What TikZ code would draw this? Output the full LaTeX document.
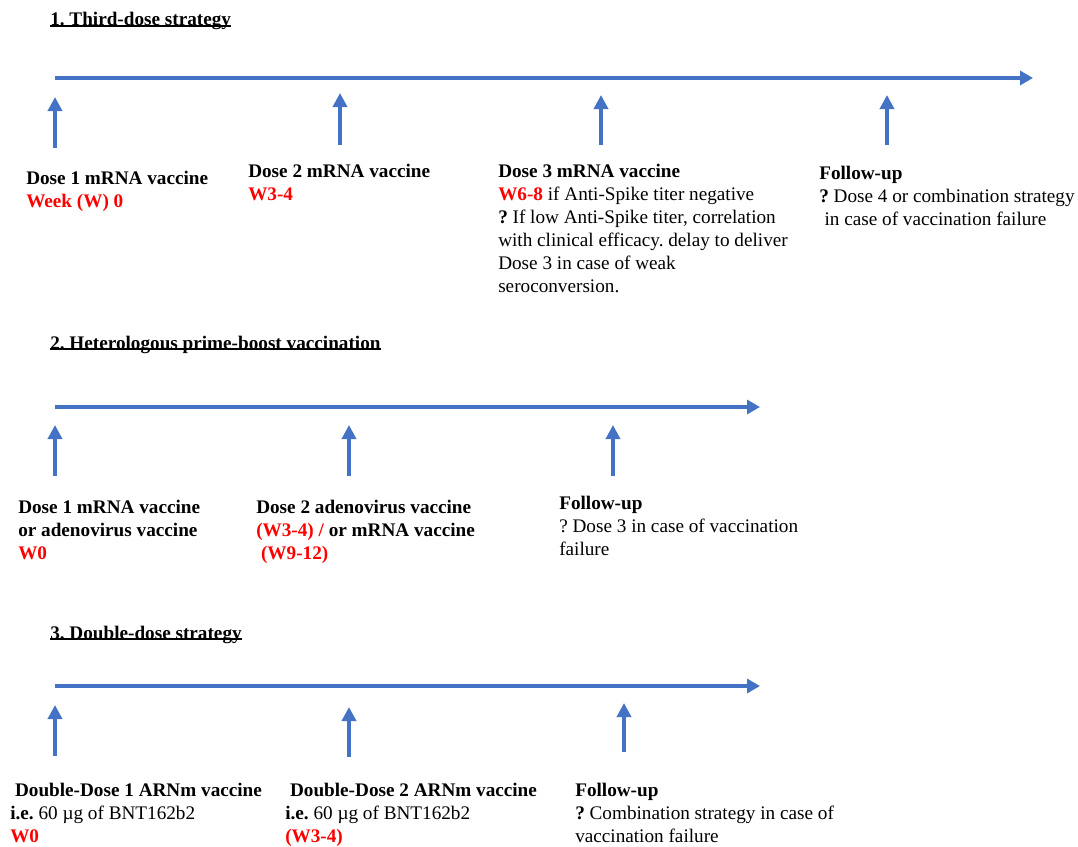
\documentclass[tikz,border=0pt]{standalone}
\usepackage{fontspec}
\setmainfont{Liberation Serif}
\usetikzlibrary{arrows.meta}
\definecolor{tlblue}{HTML}{4472C4}
\definecolor{wred}{HTML}{FF0000}
\frenchspacing
\begin{document}
\begin{tikzpicture}[x=0.75pt, y=-0.75pt,
  every node/.style={font=\fontsize{14.4}{17.25}\selectfont},
  timeline/.style={draw=tlblue, line width=3pt, -{Triangle[length=9.75pt, width=10.5pt]}},
  upmark/.style={draw=tlblue, line width=3pt, -{Triangle[length=10.5pt, width=10.5pt]}},
  headtext/.style={anchor=base west, inner sep=0pt, font=\fontsize{14.4}{17.25}\selectfont\bfseries},
  headline/.style={line width=1.2pt, yshift=-2.4pt},
  info/.style={anchor=base west, inner sep=0pt, align=left}]
  \useasboundingbox (0,0) rectangle (1078,846);

  % 1. third dose (info nodes sit on the baseline of their last line)
  \node[headtext] (h1) at (50,26) {1. Third-dose strategy};
  \draw[headline] (h1.base west) -- (h1.base east);
  \coordinate (s1l) at (55,78);
  \coordinate (s1r) at (1033,78);
  \draw[timeline] (s1l) -- (s1r);
  \foreach \x/\yb/\yt [count=\i] in {55/148/97, 340/145/93, 601/145/95, 887/145/95} {
    \coordinate (s1b\i) at (\x,\yb);
    \coordinate (s1t\i) at (\x,\yt);
    \draw[upmark] (s1b\i) -- (s1t\i);
  }
  \node[info] (d1) at (26,207) {\textbf{Dose 1 mRNA vaccine}\\\textcolor{wred}{\textbf{Week (W) 0}}};
  \node[info] (d2) at (248,200) {\textbf{Dose 2 mRNA vaccine}\\\textcolor{wred}{\textbf{W3-4}}};
  \node[info] (d3) at (498,292) {\textbf{Dose 3 mRNA vaccine}\\
    \textcolor{wred}{\textbf{W6-8}} if Anti-Spike titer negative\\
    \textbf{?} If low Anti-Spike titer, correlation\\
    with clinical efficacy. delay to deliver\\
    Dose 3 in case of weak\\
    seroconversion.};
  \node[info] (f1) at (819,225) {\textbf{Follow-up}\\
    \textbf{?} Dose 4 or combination strategy\\
    \hspace{4pt}in case of vaccination failure};

  % 2. heterologous
  \node[headtext] (h2) at (50,349) {2. Heterologous prime-boost vaccination};
  \draw[headline] (h2.base west) -- (h2.base east);
  \coordinate (s2l) at (55,407);
  \coordinate (s2r) at (760,407);
  \draw[timeline] (s2l) -- (s2r);
  \foreach \x [count=\i] in {55, 349, 613} {
    \coordinate (s2b\i) at (\x,476);
    \coordinate (s2t\i) at (\x,425);
    \draw[upmark] (s2b\i) -- (s2t\i);
  }
  \node[info] (e1) at (18,559) {\textbf{Dose 1 mRNA vaccine}\\
    \textbf{or adenovirus vaccine}\\
    \textcolor{wred}{\textbf{W0}}};
  \node[info] (e2) at (256,559) {\textbf{Dose 2 adenovirus vaccine}\\
    \textbf{\textcolor{wred}{(W3-4) /} or mRNA vaccine}\\
    \textbf{\textcolor{wred}{\ (W9-12)}}};
  \node[info] (f2) at (559,555) {\textbf{Follow-up}\\
    ? Dose 3 in case of vaccination\\
    failure};

  % 3. double dose
  \node[headtext] (h3) at (50,639) {3. Double-dose strategy};
  \draw[headline] (h3.base west) -- (h3.base east);
  \coordinate (s3l) at (55,686);
  \coordinate (s3r) at (760,686);
  \draw[timeline] (s3l) -- (s3r);
  \foreach \x/\yb/\yt [count=\i] in {55/756/705, 349/757/707, 624/752/703} {
    \coordinate (s3b\i) at (\x,\yb);
    \coordinate (s3t\i) at (\x,\yt);
    \draw[upmark] (s3b\i) -- (s3t\i);
  }
  \node[info] (g1) at (10,842) {\textbf{\ Double-Dose 1 ARNm vaccine}\\
    \textbf{i.e.} 60 µg of BNT162b2\\
    \textcolor{wred}{\textbf{W0}}};
  \node[info] (g2) at (285,842) {\textbf{\ Double-Dose 2 ARNm vaccine}\\
    \textbf{i.e.} 60 µg of BNT162b2\\
    \textcolor{wred}{\textbf{(W3-4)}}};
  \node[info] (f3) at (575,842) {\textbf{Follow-up}\\
    \textbf{?} Combination strategy in case of\\
    vaccination failure};
\end{tikzpicture}
\end{document}
